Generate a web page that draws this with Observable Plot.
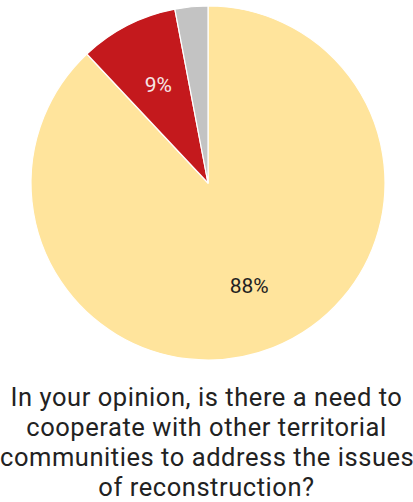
<!DOCTYPE html>
<html>
<head>
<meta charset="utf-8">
<script src="https://cdn.jsdelivr.net/npm/d3@7"></script>
<script src="https://cdn.jsdelivr.net/npm/@observablehq/plot@0.6"></script>
<style>
  html, body { margin: 0; padding: 0; background: #fff; overflow: hidden; }
  #chart svg { display: block; }
  #title {
    width: 413px;
    margin-top: 12px;
    font-family: Roboto, "Noto Sans", sans-serif;
    font-size: 25.5px;
    letter-spacing: 0.55px;
    line-height: 30px;
    color: #222;
    text-align: center;
    white-space: nowrap;
  }
</style>
</head>
<body>
<div id="chart"></div>
<div id="title">In your opinion, is there a need to<br>cooperate with other territorial<br>communities to address the issues<br>of reconstruction?</div>
<script>
const categories = ["Yes", "No", "Hard to say"];
const values = [88, 9, 3];
const labels = ["88%", "9%", ""];
const colors = ["#FFE49C", "#C4191D", "#C3C3C3"];
const labelColors = ["#222222", "#F6E6E6", "#222222"];

const data = categories.map((c, i) => ({category: c, value: values[i], label: labels[i], color: colors[i], labelColor: labelColors[i]}));

// angles (clockwise from 12 o'clock)
const arcs = d3.pie().value(d => d.value).sort(null)(data);
const labelR = 0.625;
const labelData = arcs.filter(a => a.data.label).map(a => {
  const mid = (a.startAngle + a.endAngle) / 2;
  return {x: labelR * Math.sin(mid), y: labelR * Math.cos(mid), label: a.data.label, color: a.data.labelColor};
});

function pieMark(index, scales) {
  const cx = scales.x(0), cy = scales.y(0);
  const r = scales.x(1) - scales.x(0);
  const arcGen = d3.arc().innerRadius(0).outerRadius(r);
  const g = d3.create("svg:g").attr("transform", `translate(${cx},${cy})`);
  g.selectAll("path").data(arcs).join("path")
    .attr("d", arcGen)
    .attr("fill", d => d.data.color)
    .attr("stroke", "#ffffff")
    .attr("stroke-width", 1.2)
    .attr("stroke-linejoin", "round");
  return g.node();
}

const plot = Plot.plot({
  width: 413,
  height: 370,
  marginLeft: 31,
  marginRight: 28,
  marginTop: 6,
  marginBottom: 10,
  x: {domain: [-1, 1], axis: null},
  y: {domain: [-1, 1], axis: null},
  style: {background: "#fff", overflow: "visible"},
  marks: [
    pieMark,
    Plot.text(labelData, {
      x: "x", y: "y", text: "label", fill: "color",
      fontSize: 21, fontFamily: "Roboto, 'Noto Sans', sans-serif"
    })
  ]
});
document.getElementById("chart").appendChild(plot);
</script>
</body>
</html>
